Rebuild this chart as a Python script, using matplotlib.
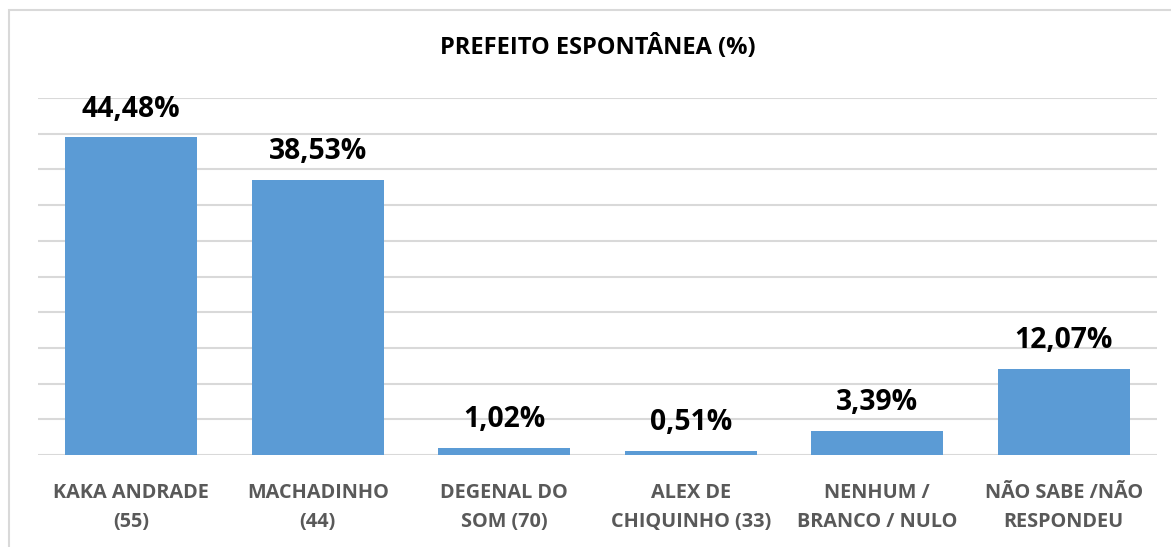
import matplotlib
matplotlib.use("Agg")
import matplotlib.pyplot as plt
from matplotlib.patches import Rectangle

categories = ["KAKA ANDRADE\n(55)", "MACHADINHO\n(44)", "DEGENAL DO\nSOM (70)",
              "ALEX DE\nCHIQUINHO (33)", "NENHUM /\nBRANCO / NULO", "NÃO SABE /NÃO\nRESPONDEU"]
values = [44.48, 38.53, 1.02, 0.51, 3.39, 12.07]
value_labels = ["44,48%", "38,53%", "1,02%", "0,51%", "3,39%", "12,07%"]
title = "PREFEITO ESPONTÂNEA (%)"

plt.rcParams['font.family'] = ['Open Sans', 'DejaVu Sans']

fig = plt.figure(figsize=(11.71, 5.47), dpi=100)
ax = fig.add_axes([38/1171, 1-455/547, (1157-38)/1171, (455-98)/547])

x = range(len(values))
ax.bar(x, values, width=0.71, color="#5B9BD5", zorder=3)
ax.set_xlim(-0.5, len(values)-0.5)
ax.set_ylim(0, 50)
ax.set_yticks(range(0, 51, 5))
ax.yaxis.grid(True, color="#D9D9D9", linewidth=1.5, zorder=0)
ax.tick_params(axis='y', left=False, labelleft=False)
ax.tick_params(axis='x', bottom=False, pad=17)
ax.set_xticks(list(x))
ax.set_xticklabels(categories, fontsize=14.3, fontweight='bold', color="#595959", linespacing=1.6)
for s in ax.spines.values():
    s.set_visible(False)

for i, (v, lab) in enumerate(zip(values, value_labels)):
    ax.annotate(lab, (i, v), xytext=(0, 10), textcoords='offset points',
                ha='center', va='bottom', fontsize=20.3, fontweight='bold', color='black')

fig.text(598/1171, 1-48/547, title, ha='center', va='center', fontsize=17, fontweight='bold', color='black')

# outer chart border (partially cropped)
fig.patches.append(Rectangle((9/1171, -0.1), 1.2, 1-10/547+0.1, transform=fig.transFigure,
                             fill=False, edgecolor="#D9D9D9", linewidth=1.5))

fig.savefig("out.png", dpi=100, facecolor="white")
